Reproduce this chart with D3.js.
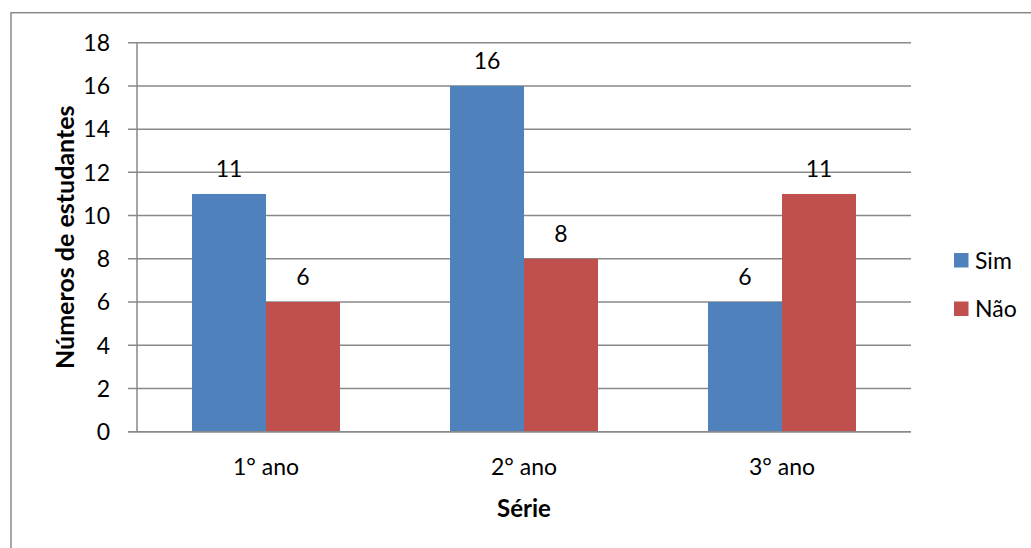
<!DOCTYPE html>
<html>
<head>
<meta charset="utf-8">
<script src="https://cdn.jsdelivr.net/npm/d3@7"></script>
<style>
  html, body { margin: 0; padding: 0; background: #fff; }
  svg { display: block; font-family: Lato, "Open Sans", sans-serif; }
</style>
</head>
<body>
<svg id="chart" width="1031" height="548"></svg>
<script>
const categories = ["1° ano", "2° ano", "3° ano"];
const seriesNames = ["Sim", "Não"];
const simValues = [11, 16, 6];
const naoValues = [6, 8, 11];
const yTicks = [0, 2, 4, 6, 8, 10, 12, 14, 16, 18];
const colors = ["#4F81BD", "#C0504D"];
const yTitle = "Números de estudantes";
const xTitle = "Série";

const seriesValues = [simValues, naoValues];
const svg = d3.select("#chart");

const plot = { left: 137, right: 911, top: 42.7, bottom: 431.7 };
const gridColor = "#898989";
const fs = 23;

// outer frame (cut off at right/bottom as in the reference)
svg.append("rect")
  .attr("x", 11).attr("y", 12.7)
  .attr("width", 1100).attr("height", 600)
  .attr("fill", "none").attr("stroke", gridColor).attr("stroke-width", 1.5);

const x0 = d3.scaleBand().domain(categories)
  .range([plot.left, plot.right])
  .paddingInner(0.4264).paddingOuter(0.2132);
const x1 = d3.scaleBand().domain(seriesNames).range([0, x0.bandwidth()]);
const y = d3.scaleLinear().domain([0, 18]).range([plot.bottom, plot.top]);

// gridlines
svg.append("g").selectAll("line").data(yTicks).join("line")
  .attr("x1", plot.left - 9).attr("x2", plot.right)
  .attr("y1", d => y(d)).attr("y2", d => y(d))
  .attr("stroke", gridColor).attr("stroke-width", 1.5);

// y axis line
svg.append("line")
  .attr("x1", plot.left).attr("x2", plot.left)
  .attr("y1", y(18)).attr("y2", y(0))
  .attr("stroke", gridColor).attr("stroke-width", 1.5);

// y tick labels
svg.append("g").selectAll("text").data(yTicks).join("text")
  .attr("x", 110).attr("y", d => y(d))
  .attr("dy", "0.36em")
  .attr("text-anchor", "end")
  .attr("font-size", fs).attr("fill", "#000")
  .text(d => d);

// bars
const groups = svg.append("g").selectAll("g").data(categories).join("g")
  .attr("transform", d => `translate(${x0(d)},0)`);

groups.selectAll("rect")
  .data((c, i) => seriesNames.map((s, j) => ({ s, j, v: seriesValues[j][i] })))
  .join("rect")
  .attr("x", d => x1(d.s)).attr("width", x1.bandwidth())
  .attr("y", d => y(d.v)).attr("height", d => y(0) - y(d.v))
  .attr("fill", d => colors[d.j]);

groups.selectAll("text")
  .data((c, i) => seriesNames.map((s, j) => ({ s, j, v: seriesValues[j][i] })))
  .join("text")
  .attr("x", d => x1(d.s) + x1.bandwidth() / 2)
  .attr("y", d => y(d.v) - 25)
  .attr("dy", "0.36em")
  .attr("text-anchor", "middle")
  .attr("font-size", fs).attr("fill", "#000")
  .text(d => d.v);

// redraw x axis line on top
svg.append("line")
  .attr("x1", plot.left - 9).attr("x2", plot.right)
  .attr("y1", y(0)).attr("y2", y(0))
  .attr("stroke", gridColor).attr("stroke-width", 1.5);

// category labels
svg.append("g").selectAll("text").data(categories).join("text")
  .attr("x", d => x0(d) + x0.bandwidth() / 2)
  .attr("y", 467).attr("dy", "0.36em")
  .attr("text-anchor", "middle")
  .attr("font-size", fs).attr("fill", "#000")
  .text(d => d);

// axis titles
svg.append("text")
  .attr("x", (plot.left + plot.right) / 2).attr("y", 508).attr("dy", "0.36em")
  .attr("text-anchor", "middle")
  .attr("font-size", 24).attr("font-weight", "bold").attr("fill", "#000")
  .text(xTitle);

svg.append("text")
  .attr("transform", `translate(65,${(plot.top + plot.bottom) / 2}) rotate(-90)`)
  .attr("dy", "0.36em")
  .attr("text-anchor", "middle")
  .attr("font-size", 25).attr("font-weight", "bold").attr("fill", "#000")
  .text(yTitle);

// legend
const legend = svg.append("g").selectAll("g").data(seriesNames).join("g")
  .attr("transform", (d, i) => `translate(954,${253 + i * 48.5})`);
legend.append("rect").attr("width", 14.5).attr("height", 14.5)
  .attr("fill", (d, i) => colors[i]);
legend.append("text").attr("x", 21).attr("y", 7.3).attr("dy", "0.36em")
  .attr("font-size", fs).attr("fill", "#000")
  .text(d => d);
</script>
</body>
</html>
